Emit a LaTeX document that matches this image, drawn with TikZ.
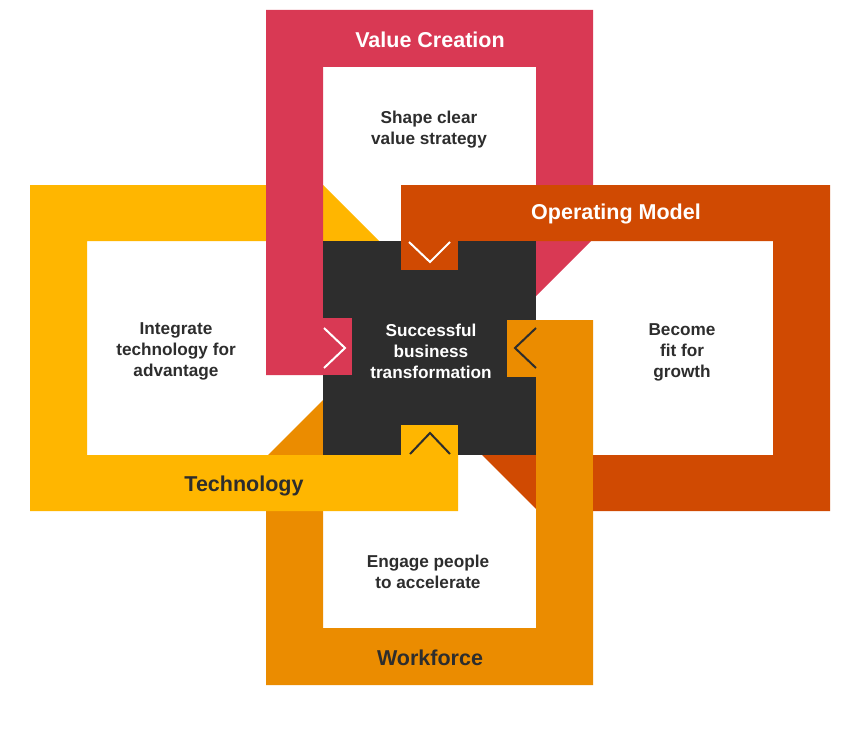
\documentclass[tikz,border=0pt]{standalone}
\usepackage{fontspec}
\setmainfont{Liberation Sans}
\definecolor{rose}{HTML}{D93954}
\definecolor{ops}{HTML}{D04A02}
\definecolor{tang}{HTML}{EB8C00}
\definecolor{yel}{HTML}{FFB600}
\definecolor{dark}{HTML}{2D2D2D}
\begin{document}
\begin{tikzpicture}[x=1pt,y=-1pt,
  title/.style={font=\bfseries\fontsize{21.5}{25}\selectfont, inner sep=0pt},
  body/.style={font=\bfseries\fontsize{17.2}{21}\selectfont, align=center, text=dark, inner sep=0pt},
  chev/.style={line width=2pt}]
\useasboundingbox (0,0) rectangle (867,733);
\fill[white] (0,0) rectangle (867,733);
% Workforce
\fill[tang] (266,685) -- (593,685) -- (593,320) -- (536,320) -- (536,628) -- (323,628) -- (323,400) -- (266,457) -- cycle;
% Technology
\fill[yel] (30,185) -- (323,185) -- (379,241) -- (87,241) -- (87,455) -- (458,455) -- (458,511) -- (30,511) -- cycle;
% Value Creation
\fill[rose] (266,10) -- (593,10) -- (593,239) -- (536,296) -- (536,67) -- (323,67) -- (323,375) -- (266,375) -- cycle;
% Operating Model
\fill[ops] (401,185) -- (830,185) -- (830,511) -- (538,511) -- (482,455) -- (773,455) -- (773,241) -- (401,241) -- cycle;
% Workforce right leg on top
\fill[tang] (536,320) rectangle (593,685);
% centre
\fill[dark] (323,241) rectangle (536,455);
% tabs
\fill[rose] (320,318) rectangle (352,375);
\fill[tang] (507,320) rectangle (537,377);
\fill[yel] (401,425) rectangle (458,456);
\fill[ops] (401,240) rectangle (458,270);
% chevrons
\draw[chev, white] (324,328) -- (345,348) -- (324,368);
\draw[chev, dark] (536,328) -- (515,348) -- (536,368);
\draw[chev, dark] (410,454) -- (430,433) -- (450,454);
\draw[chev, white] (409,242) -- (430,262) -- (450,242);
% titles
\node[title, text=white] (tv) at (430,40) {Value Creation};
\node[title, text=white] (to) at (616,214) {Operating Model};
\node[title, text=dark] (tt) at (244,486) {Technology};
\node[title, text=dark] (tw) at (430,658) {Workforce};
% body texts
\node[body] (bv) at (429,129.5) {Shape clear\\value strategy};
\node[body] (bt) at (176,351) {Integrate\\technology for\\advantage};
\node[body] (bo) at (682,352) {Become\\fit for\\growth};
\node[body] (bw) at (428,572) {Engage people\\to accelerate};
\node[body, text=white] (bc) at (431,351) {Successful\\business\\transformation};
\end{tikzpicture}
\end{document}
